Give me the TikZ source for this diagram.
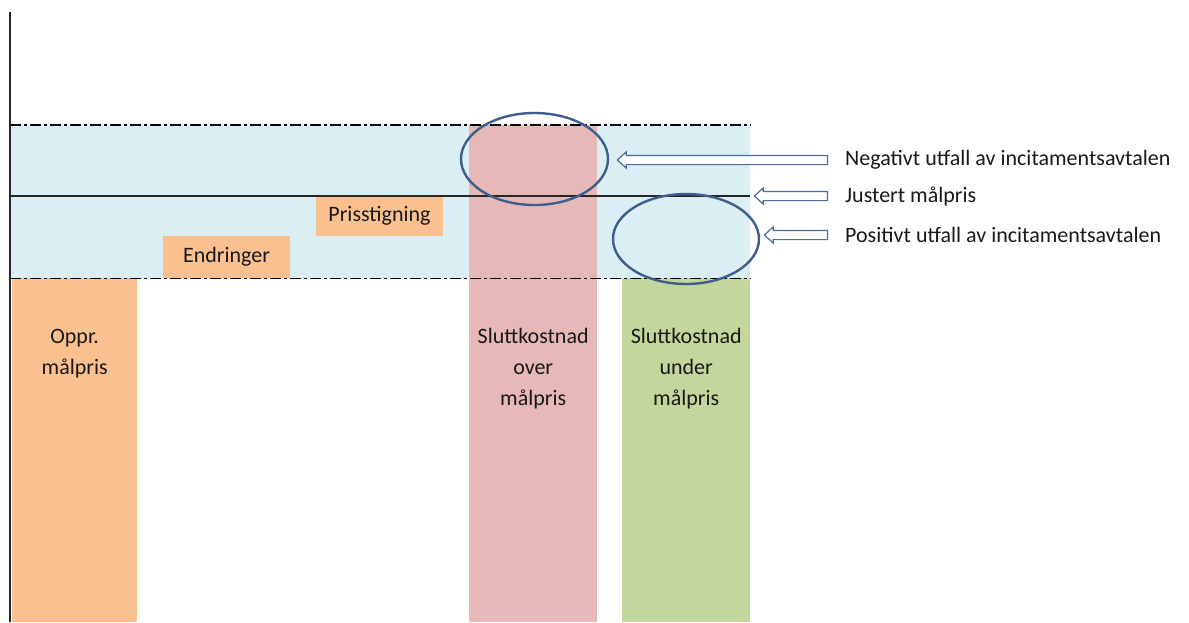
\documentclass[tikz,border=0pt]{standalone}
\usepackage{fontspec}
\setmainfont{Carlito}
\usetikzlibrary{shapes.arrows,shapes.geometric,positioning}

\definecolor{bandblue}{HTML}{DAEEF3}
\definecolor{opprorange}{HTML}{FAC090}
\definecolor{overpink}{HTML}{E6B9B8}
\definecolor{undergreen}{HTML}{C3D69B}
\definecolor{ringblue}{HTML}{3F5E8C}
\definecolor{arrowblue}{HTML}{4A6C9E}

\begin{document}
\begin{tikzpicture}[x=1pt,y=-1pt,
    txt/.style={font=\fontsize{22}{31}\selectfont, text=black!90, align=center, inner sep=0pt},
    bar/.style={inner sep=0pt, anchor=north west},
    costbox/.style={txt, fill=opprorange, minimum width=127pt, minimum height=42pt},
    dashdot/.style={line width=1.4pt, dash pattern=on 11pt off 3pt on 3pt off 3pt},
    ring/.style={ellipse, draw=ringblue, line width=2.4pt, inner sep=0pt},
    hollowarrow/.style={single arrow, shape border rotate=180, draw=arrowblue, fill=white,
        line width=1.2pt, inner sep=4pt, minimum width=15pt, single arrow head extend=3.5pt,
        single arrow tip angle=85}]
    \useasboundingbox (0,0) rectangle (1189,622);

    % band around the target price
    \node[bar, fill=bandblue, minimum width=740pt, minimum height=153pt] (band) at (10,125) {};

    % bars
    \node[bar, fill=opprorange, minimum width=125pt, minimum height=344pt] (oppr) at (12,278) {};
    \node[bar, fill=overpink, minimum width=128pt, minimum height=497pt] (over) at (469,125) {};
    \node[bar, fill=undergreen, minimum width=128pt, minimum height=344pt] (under) at (622,278) {};

    \node[txt, anchor=north] (opprtxt) at (oppr.north |- 0,329) {Oppr.\\målpris};
    \node[txt, anchor=north] (overtxt) at (over.north |- 0,328) {Sluttkostnad\\over\\målpris};
    \node[txt, anchor=north] (undertxt) at (under.north |- 0,328) {Sluttkostnad\\under\\målpris};

    \node[costbox] (endr) at (226.5,257) {Endringer};
    \node[costbox, minimum height=41pt] (pris) at (379.5,215.5) {Prisstigning};

    % limits and adjusted target price
    \coordinate (justl) at (10,196);
    \coordinate (justr) at (750,196);
    \draw[dashdot] (band.north west) -- (band.north east);
    \draw[dashdot] (band.south west) -- (band.south east);
    \draw[line width=1.2pt, black!85] (justl) -- (justr);

    % axis
    \coordinate (axtop) at (10,12);
    \coordinate (axbot) at (10,622);
    \draw[line width=2.4pt, black!85] (axtop) -- (axbot);

    % outcomes
    \node[ring, minimum width=147pt, minimum height=92pt] (negring) at (534.5,159) {};
    \node[ring, minimum width=146pt, minimum height=90pt] (posring) at (686,239) {};

    \foreach \lbl/\y/\len [count=\i] in {Negativt utfall av incitamentsavtalen/160/210,
            Justert målpris/196/73, Positivt utfall av incitamentsavtalen/235/63} {
        \node[txt, anchor=west] (lbl\i) at (845,\y) {\lbl};
        \node[hollowarrow, anchor=tail, minimum height=\len pt] (arr\i) at ([xshift=-17pt]lbl\i.west) {};
    }
\end{tikzpicture}
\end{document}
